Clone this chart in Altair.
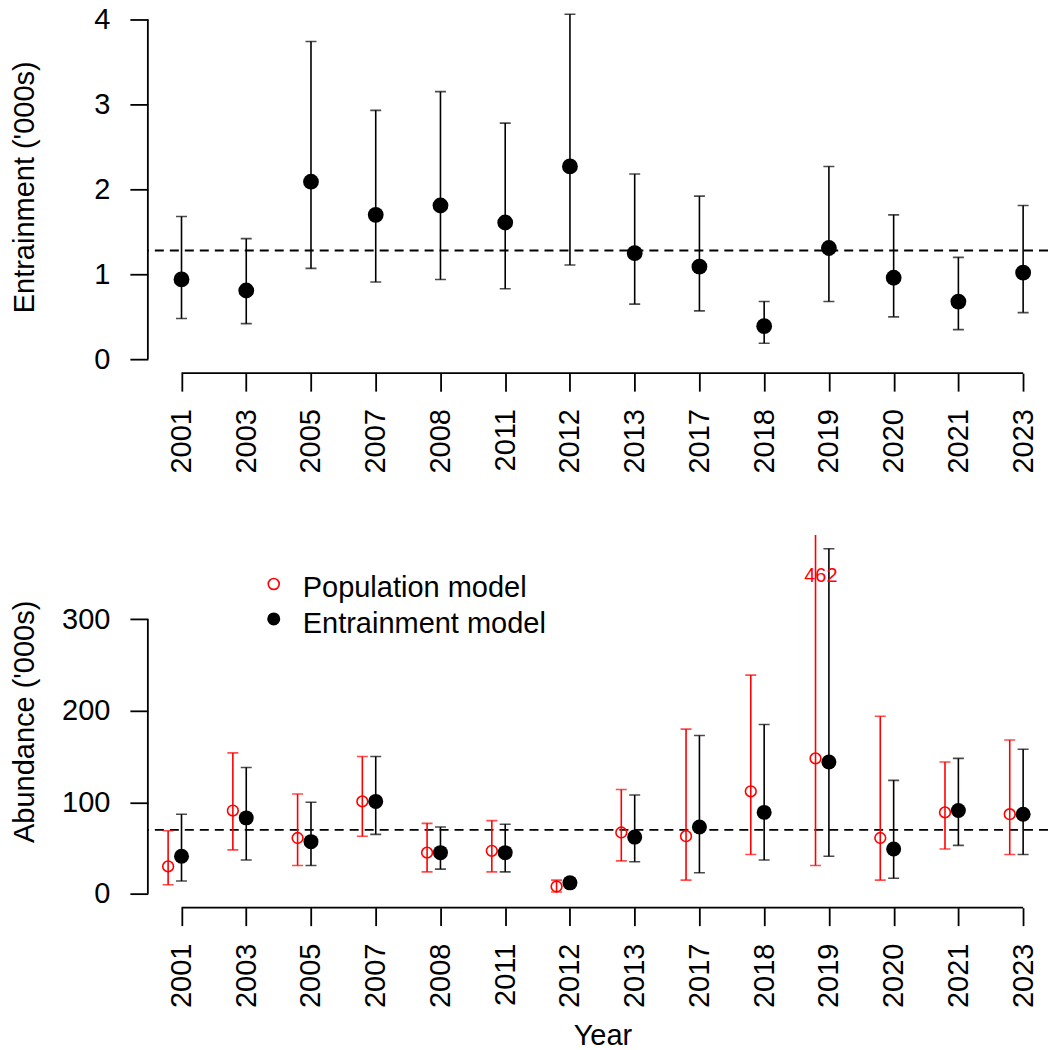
import altair as alt
import pandas as pd

# Survey years shown on both panels
years = ["2001", "2003", "2005", "2007", "2008", "2011", "2012",
         "2013", "2017", "2018", "2019", "2020", "2021", "2023"]

# Entrainment ('000s): estimate with lower / upper interval limits
ent_est = [0.94, 0.81, 2.09, 1.70, 1.81, 1.61, 2.27, 1.25, 1.09, 0.39, 1.31, 0.96, 0.68, 1.02]
ent_lo = [0.48, 0.42, 1.07, 0.91, 0.94, 0.83, 1.11, 0.65, 0.57, 0.19, 0.68, 0.50, 0.35, 0.55]
ent_hi = [1.68, 1.42, 3.74, 2.93, 3.15, 2.78, 4.06, 2.18, 1.92, 0.68, 2.27, 1.70, 1.20, 1.81]

# Abundance ('000s) from the population model
pop_est = [30, 91, 61, 101, 45, 47, 8, 67, 63, 112, 148, 61, 89, 87]
pop_lo = [10, 48, 31, 63, 24, 24, 2, 36, 15, 43, 31, 15, 49, 43]
pop_hi = [69, 154, 109, 150, 77, 80, 15, 114, 180, 239, 462, 194, 144, 168]

# Abundance ('000s) from the entrainment model
abd_est = [41, 83, 57, 101, 45, 45, 12, 62, 73, 89, 144, 49, 91, 87]
abd_lo = [14, 37, 31, 65, 27, 24, 8, 35, 23, 37, 41, 17, 53, 43]
abd_hi = [87, 138, 100, 150, 73, 76, 17, 108, 173, 185, 377, 124, 148, 158]

top_ticks = [0, 1, 2, 3, 4]
bot_ticks = [0, 100, 200, 300]
legend_labels = ["Population model", "Entrainment model"]

# ---- layout / style ----
FONT = "Liberation Sans"
FS = 29
W, H = 901, 373
RED = "#FF0000"
LW = 1.6
AXW = 1.8
RED_SHIFT = -13.4

ent_df = pd.DataFrame({"year": years, "est": ent_est, "lo": ent_lo, "hi": ent_hi})
pop_df = pd.DataFrame({"year": years, "est": pop_est, "lo": pop_lo, "hi": pop_hi})
abd_df = pd.DataFrame({"year": years, "est": abd_est, "lo": abd_lo, "hi": abd_hi})
year_df = pd.DataFrame({"year": years})


def padded(lo, hi):
    # base-graphics style 4% expansion of the axis range
    d = 0.04 * (hi - lo)
    return [lo - d, hi + d]


top_dom = padded(0, max(ent_hi))
bot_dom = padded(0, max(abd_hi))

x_scale = alt.Scale(type="point", domain=years, padding=0.452, align=0.575)


def x_enc(title):
    axis = alt.Axis(domain=False, grid=False, tickSize=18, tickWidth=AXW, tickColor="black",
                    labelAngle=-90, labelPadding=17.5, labelFontSize=FS, labelFont=FONT,
                    labelColor="black", labelOverlap=False,
                    titleFontSize=FS, titleFont=FONT, titleFontWeight="normal", titleColor="black",
                    titleX=455, titleY=137, titleBaseline="alphabetic", titleAlign="center")
    return alt.X("year:N", scale=x_scale, sort=years, title=title, axis=axis)


def y_enc(field, dom, ticks, title):
    axis = alt.Axis(domain=False, grid=False, values=ticks, tickSize=18, tickWidth=AXW,
                    tickColor="black", labelPadding=20, labelFontSize=FS, labelFont=FONT,
                    labelColor="black", titleFontSize=FS, titleFont=FONT,
                    titleFontWeight="normal", titleColor="black", titleAngle=270,
                    titleX=-114, titleY=H / 2, titleBaseline="alphabetic", titleAlign="center")
    return alt.Y(field, scale=alt.Scale(domain=dom, nice=False, zero=False), title=title, axis=axis)


def axis_lines(dom, ticks, title, xtitle):
    # axis lines spanning only the first to the last tick
    tick_df = pd.DataFrame({"v": ticks})
    yline = alt.Chart(tick_df).mark_line(color="black", strokeWidth=AXW).encode(
        x=alt.value(0), y=y_enc("v:Q", dom, ticks, title))
    xline = alt.Chart(year_df).mark_line(color="black", strokeWidth=AXW).encode(
        x=x_enc(xtitle), y=alt.value(H))
    return [yline, xline]


def series(df, dom, ticks, title, color, filled, size, shift=0.0, xtitle=None):
    base = alt.Chart(df)
    bars = base.mark_rule(color=color, strokeWidth=LW, xOffset=shift, clip=True).encode(
        x=x_enc(xtitle), y=y_enc("lo:Q", dom, ticks, title), y2="hi:Q")
    cap_hi = base.mark_tick(color=color, orient="horizontal", size=11, thickness=LW,
                            xOffset=shift, clip=True).encode(
        x=x_enc(xtitle), y=y_enc("hi:Q", dom, ticks, title))
    cap_lo = base.mark_tick(color=color, orient="horizontal", size=11, thickness=LW,
                            xOffset=shift, clip=True).encode(
        x=x_enc(xtitle), y=y_enc("lo:Q", dom, ticks, title))
    if filled:
        pts = base.mark_point(shape="circle", filled=True, color=color, size=size, opacity=1,
                              xOffset=shift)
    else:
        pts = base.mark_point(shape="circle", filled=False, color=color, size=size, opacity=1,
                              strokeWidth=1.6, xOffset=shift)
    pts = pts.encode(x=x_enc(xtitle), y=y_enc("est:Q", dom, ticks, title))
    return [bars, cap_hi, cap_lo, pts]


def mean_line(df, dom, ticks, title):
    return alt.Chart(df).mark_rule(color="black", strokeWidth=AXW, strokeDash=[9, 6]).encode(
        y=y_enc("mean(est):Q", dom, ticks, title))


# ---- top panel: entrainment ----
t_title = "Entrainment ('000s)"
top = alt.layer(
    mean_line(ent_df, top_dom, top_ticks, t_title),
    *axis_lines(top_dom, top_ticks, t_title, None),
    *series(ent_df, top_dom, top_ticks, t_title, "black", True, 250),
).properties(width=W, height=H)

# ---- bottom panel: abundance ----
b_title = "Abundance ('000s)"
over = alt.Chart(pop_df).transform_filter(f"datum.hi > {bot_dom[1]}").mark_text(
    color=RED, fontSize=20, font=FONT, dx=-8, baseline="middle").encode(
    x=x_enc("Year"), y=alt.value(41), text=alt.Text("hi:Q", format="d"))

legend = [
    alt.Chart(year_df.head(1)).mark_point(shape="circle", filled=False, color=RED, size=120,
                                          strokeWidth=1.6, opacity=1).encode(
        x=alt.value(126), y=alt.value(49)),
    alt.Chart(year_df.head(1)).mark_point(shape="circle", filled=True, color="black", size=170,
                                          opacity=1).encode(
        x=alt.value(126), y=alt.value(84)),
    alt.Chart(year_df.head(1)).mark_text(align="left", baseline="alphabetic", fontSize=FS,
                                         font=FONT, color="black").encode(
        x=alt.value(155), y=alt.value(62), text=alt.value(legend_labels[0])),
    alt.Chart(year_df.head(1)).mark_text(align="left", baseline="alphabetic", fontSize=FS,
                                         font=FONT, color="black").encode(
        x=alt.value(155), y=alt.value(98), text=alt.value(legend_labels[1])),
]

bottom = alt.layer(
    mean_line(abd_df, bot_dom, bot_ticks, b_title),
    *axis_lines(bot_dom, bot_ticks, b_title, "Year"),
    *series(pop_df, bot_dom, bot_ticks, b_title, RED, False, 115, RED_SHIFT, "Year"),
    *series(abd_df, bot_dom, bot_ticks, b_title, "black", True, 225, 0.0, "Year"),
    over,
    *legend,
).properties(width=W, height=H)

chart = alt.vconcat(top, bottom, spacing=61).properties(
    padding={"left": 11, "top": 0, "right": 0, "bottom": 0}
).configure(font=FONT).configure_view(strokeWidth=0)

chart.save("out.html", embed_options={"renderer": "svg", "actions": False})
